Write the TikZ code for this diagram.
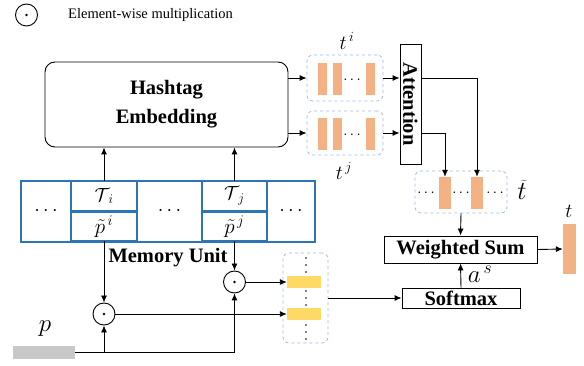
\documentclass[tikz,border=0pt]{standalone}
\usepackage{fix-cm}
\usepackage{fontspec}
\setmainfont{Liberation Serif}
\usetikzlibrary{arrows.meta}
\definecolor{memblue}{HTML}{2E75B6}
\definecolor{dashblue}{HTML}{9DB9E6}
\definecolor{barorange}{HTML}{F4B183}
\definecolor{baryellow}{HTML}{FFD966}
\definecolor{bargrey}{HTML}{C8C8C8}
\begin{document}
\begin{tikzpicture}[x=1pt,y=-1pt,
  arr/.style={-{Latex[length=7pt,width=6pt]}, line width=0.9pt},
  ln/.style={line width=0.9pt},
  cell/.style={draw=memblue, line width=2.2pt, inner sep=0pt, outer sep=0pt, minimum height=30pt, font=\fontsize{19}{21}\selectfont},
  pcell/.style={cell, font=\fontsize{21}{23}\selectfont},
  bigcell/.style={draw=memblue, line width=2.2pt, inner sep=0pt, outer sep=0pt, minimum height=61pt, font=\fontsize{20}{22}\selectfont},
  dbox/.style={draw=dashblue, dashed, rounded corners=6pt, line width=0.8pt, inner sep=0pt},
  obar/.style={fill=barorange, inner sep=0pt, minimum width=9pt, minimum height=32pt},
  ybar/.style={fill=baryellow, inner sep=0pt, minimum width=34pt, minimum height=12pt},
  odot/.style={circle, draw, line width=0.9pt, minimum size=22pt, inner sep=0pt},
  bx/.style={draw, line width=0.9pt, inner sep=0pt, font=\bfseries\fontsize{20.5}{24}\selectfont},
  lbl/.style={inner sep=0pt, font=\bfseries\fontsize{20.5}{24}\selectfont},
  dts/.style={inner sep=0pt, font=\fontsize{15}{17}\selectfont}
]
\useasboundingbox (0,0) rectangle (584,366);

% legend
\node[odot] (leg) at (26.5,15) {};
\fill (leg) circle (1.4pt);
\node[anchor=west, inner sep=0pt, font=\fontsize{14.5}{17}\selectfont] (legtxt) at (68,15) {Element-wise multiplication};

% hashtag embedding
\node[draw, line width=0.9pt, rounded corners=10pt, minimum width=243pt, minimum height=85pt, align=center,
  font=\bfseries\fontsize{20.5}{29}\selectfont] (hash) at (166.5,104.5) {Hashtag\\Embedding};

% memory unit
\node[bigcell, minimum width=50pt] (c1) at (46,211.5) {$\cdots$};
\node[cell, minimum width=66pt] (c2t) at (104,196) {$\mathcal{T}_{\;i}$};
\node[pcell, minimum width=66pt] (c2b) at (104,226.5) {$\tilde{p}^{\,i}$};
\node[bigcell, minimum width=65pt] (c3) at (169.5,211.5) {$\cdots$};
\node[cell, minimum width=65pt] (c4t) at (234.5,196) {$\mathcal{T}_{\;j}$};
\node[pcell, minimum width=65pt] (c4b) at (234.5,226.5) {$\tilde{p}^{\,j}$};
\node[bigcell, minimum width=48pt] (c5) at (291,211.5) {$\cdots$};
\node[lbl] (memlbl) at (168,258) {Memory Unit};

\draw[arr] (c2t.north) -- (c2t.north |- hash.south);
\draw[arr] (c4t.north) -- (c4t.north |- hash.south);

% multiplication circles
\node[odot] (m1) at (104,314) {};
\fill (m1) circle (1.4pt);
\node[odot] (m2) at (234.5,282) {};
\fill (m2) circle (1.4pt);
\draw[arr] (c2b.south) -- (m1.north);
\draw[arr] (c4b.south) -- (m2.north);

% p
\node[fill=bargrey, inner sep=0pt, minimum width=62pt, minimum height=13pt] (pbar) at (44,352.5) {};
\node[inner sep=0pt, font=\fontsize{25}{28}\selectfont] (plbl) at (45,329) {$p$};
\coordinate (j1) at (104,352.5);
\coordinate (j2) at (234.5,352.5);
\draw[ln] (pbar.east) -- (j2);
\draw[arr] (j1) -- (m1.south);
\draw[arr] (j2) -- (m2.south);

% vertical dashed box
\node[dbox, minimum width=45pt, minimum height=90pt] (vb) at (305.5,298) {};
\node[ybar] (y1) at (304,282) {};
\node[ybar] (y2) at (304,314) {};
\foreach \yy in {258,265,272,291,298,305,325,332,339}{\fill (306,\yy) circle (0.9pt);}
\draw[arr] (m2.east) -- (y1.west);
\draw[arr] (m1.east) -- (y2.west);

% softmax, weighted sum
\node[bx, minimum width=118pt, minimum height=20pt] (soft) at (461,298) {Softmax};
\node[bx, minimum width=153pt, minimum height=27pt] (ws) at (460.5,249.5) {Weighted Sum};
\draw[arr] (vb.east) -- (soft.west);
\draw[arr] (soft.north) -- (ws.south);
\node[inner sep=0pt, font=\fontsize{25}{28}\selectfont] (as) at (480,274) {$a^{\,s}$};

% t_i and t_j boxes
\node[dbox, minimum width=76pt, minimum height=46pt] (ti) at (345,78) {};
\node[obar] (ti1) at (322.5,79) {};
\node[obar] (ti2) at (337.5,79) {};
\node[obar] (ti3) at (370.5,79) {};
\node[dts] (tid) at (352,80) {$\cdots$};
\node[dbox, minimum width=76pt, minimum height=44pt] (tj) at (345,133) {};
\node[obar] (tj1) at (322.5,134) {};
\node[obar] (tj2) at (337.5,134) {};
\node[obar] (tj3) at (370.5,134) {};
\node[dts] (tjd) at (352,135) {$\cdots$};
\node[inner sep=0pt, font=\fontsize{20}{22}\selectfont] (til) at (347,41) {$t^{\,i}$};
\node[inner sep=0pt, font=\fontsize{20}{22}\selectfont] (tjl) at (344,171) {$t^{\,j}$};

% attention
\node[draw, line width=0.9pt, inner sep=0pt, minimum width=21pt, minimum height=120pt] (att) at (410.5,104) {};
\node[rotate=-90, inner sep=0pt, font=\bfseries\fontsize{20.5}{24}\selectfont] (atttxt) at (att.center) {Attention};

\draw[arr] (hash.east |- ti.west) -- (ti.west);
\draw[arr] (hash.east |- tj.west) -- (tj.west);
\draw[arr] (ti.east) -- (att.west |- ti.east);
\draw[arr] (tj.east) -- (att.west |- tj.east);

% t tilde box
\node[dbox, minimum width=92pt, minimum height=42pt] (tt) at (461,192) {};
\node[obar, minimum width=12pt] (tb1) at (445,193) {};
\node[obar, minimum width=12pt] (tb2) at (477,193) {};
\node[dts] (ttd1) at (426,193) {$\cdots$};
\node[dts] (ttd2) at (461,193) {$\cdots$};
\node[dts] (ttd3) at (495,193) {$\cdots$};
\node[inner sep=0pt, font=\fontsize{26}{30}\selectfont] (ttl) at (522,190) {$\widetilde{t}$};

\draw[arr] (att.east |- ti.east) -| (tb2.north);
\draw[arr] (att.east |- tj.east) -| (tb1.north);
\draw[arr] (tt.south) -- (ws.north);

% output t
\node[fill=barorange, inner sep=0pt, minimum width=13pt, minimum height=50pt] (tout) at (569.5,249) {};
\node[inner sep=0pt, font=\fontsize{20}{22}\selectfont] (tl) at (569,211) {$t$};
\draw[arr] (ws.east) -- (tout.west);
\end{tikzpicture}
\end{document}
